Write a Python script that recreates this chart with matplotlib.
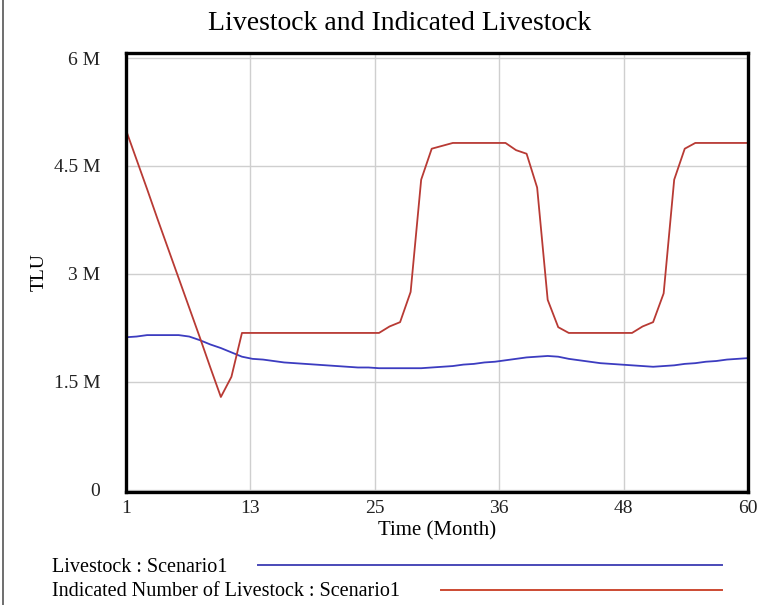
import numpy as np
import matplotlib
matplotlib.use('Agg')
from matplotlib import pyplot as plt
from matplotlib.lines import Line2D

months = np.arange(1, 61)

# Livestock : Scenario1 (millions of TLU)
livestock = [2.12, 2.13, 2.15, 2.15, 2.15, 2.15, 2.13, 2.08, 2.02, 1.97,
             1.91, 1.85, 1.82, 1.81, 1.79, 1.77, 1.76, 1.75, 1.74, 1.73,
             1.72, 1.71, 1.70, 1.70, 1.69, 1.69, 1.69, 1.69, 1.69, 1.70,
             1.71, 1.72, 1.74, 1.75, 1.77, 1.78, 1.80, 1.82, 1.84, 1.85,
             1.86, 1.85, 1.82, 1.80, 1.78, 1.76, 1.75, 1.74, 1.73, 1.72,
             1.71, 1.72, 1.73, 1.75, 1.76, 1.78, 1.79, 1.81, 1.82, 1.83]

# Indicated Number of Livestock : Scenario1 (millions of TLU)
indicated = [5.00, 4.59, 4.18, 3.76, 3.35, 2.94, 2.53, 2.12, 1.70, 1.29,
             1.57, 2.18, 2.18, 2.18, 2.18, 2.18, 2.18, 2.18, 2.18, 2.18,
             2.18, 2.18, 2.18, 2.18, 2.18, 2.27, 2.33, 2.75, 4.31, 4.74,
             4.78, 4.82, 4.82, 4.82, 4.82, 4.82, 4.82, 4.72, 4.67, 4.20,
             2.64, 2.26, 2.18, 2.18, 2.18, 2.18, 2.18, 2.18, 2.18, 2.27,
             2.33, 2.73, 4.31, 4.74, 4.82, 4.82, 4.82, 4.82, 4.82, 4.82]

y_ticks = [0, 1.5, 3, 4.5, 6]
y_labels = ['0', '1.5 M', '3 M', '4.5 M', '6 M']

BLUE = '#3c3cc0'
RED = '#b83a34'

plt.rcParams['font.family'] = ['Liberation Serif', 'DejaVu Serif']

fig = plt.figure(figsize=(7.58, 6.05), dpi=100)
ax = fig.add_axes([0.1662, 0.1868, 0.8206, 0.7256])

ax.plot(months, livestock, color=BLUE, lw=1.3)
ax.plot(months, indicated, color=RED, lw=1.3)

ax.set_xlim(1, 60)
ax.set_ylim(-0.03, 6.07)

# evenly spaced time ticks, labelled with rounded month
x_ticks = np.linspace(1, 60, 6)
ax.set_xticks(x_ticks)
ax.set_xticklabels([str(int(round(t))) for t in x_ticks])
ax.set_yticks(y_ticks)
ax.set_yticklabels(y_labels)
ax.tick_params(length=0, labelsize=14, colors='#222222')
ax.tick_params(axis='y', pad=18.5)
ax.tick_params(axis='x', pad=6)

ax.grid(True, color='#cfcfcf', lw=1)
ax.set_axisbelow(True)
for s in ax.spines.values():
    s.set_linewidth(2.4)
    s.set_color('black')

ax.set_xlabel('Time (Month)', fontsize=15, va='center')
ax.xaxis.set_label_coords(0.5, -0.088)
ax.set_ylabel('TLU', fontsize=14, va='center')
ax.yaxis.set_label_coords(-0.14, 0.5)

fig.text(400 / 758, 1 - 24 / 605, 'Livestock and Indicated Livestock',
         fontsize=20, ha='center', va='center')

# legend rows under the plot
fig.text(52 / 758, 1 - 567 / 605, 'Livestock : Scenario1', fontsize=14.5,
         va='center', ha='left')
fig.text(52 / 758, 1 - 591 / 605, 'Indicated Number of Livestock : Scenario1',
         fontsize=14.5, va='center', ha='left')
fig.add_artist(Line2D([258 / 758, 722 / 758], [1 - 565 / 605] * 2,
                      color='#4a4ab8', lw=1.4, transform=fig.transFigure))
fig.add_artist(Line2D([441 / 758, 722 / 758], [1 - 590 / 605] * 2,
                      color='#cc4a32', lw=1.4, transform=fig.transFigure))

# frame line on the left edge
fig.add_artist(Line2D([3 / 758, 3 / 758], [0, 1], color='#555555', lw=1.2,
                      transform=fig.transFigure))

fig.savefig('out.png', dpi=100)
